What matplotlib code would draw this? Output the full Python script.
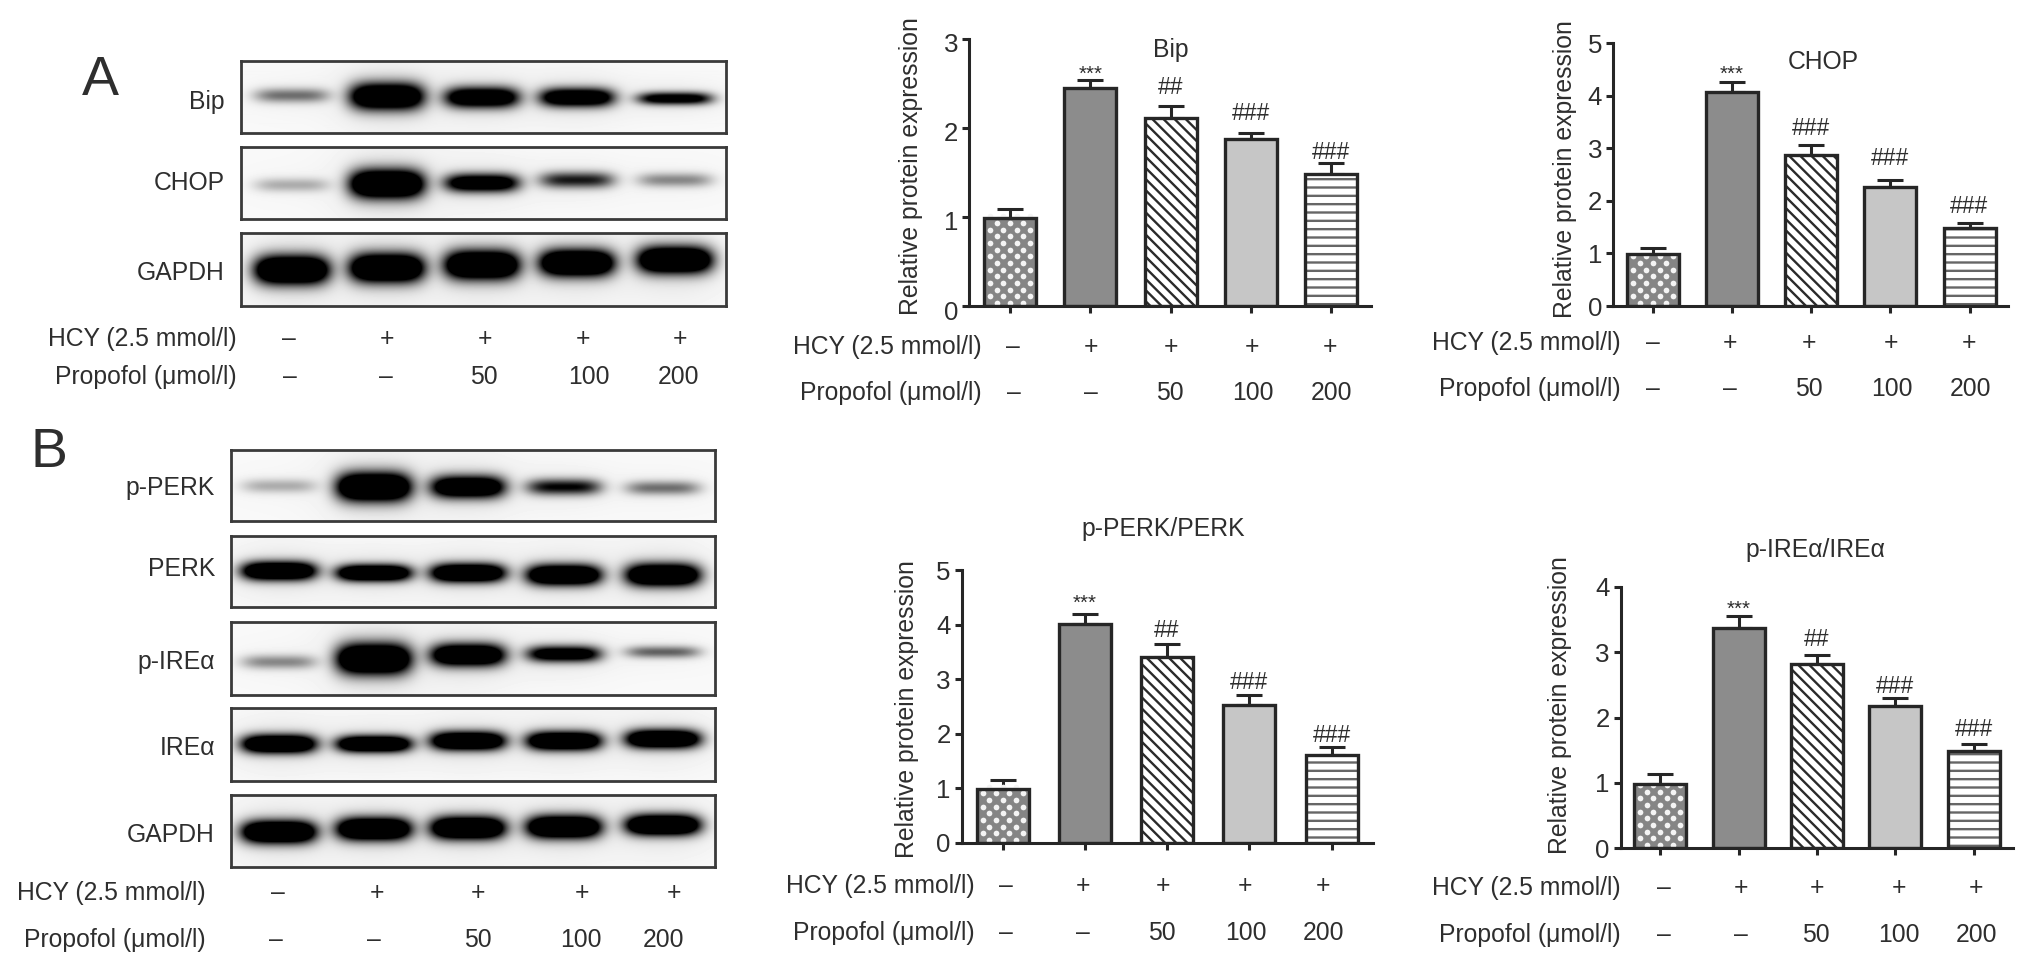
import numpy as np
import matplotlib
matplotlib.use("Agg")
import matplotlib.pyplot as plt
import matplotlib.transforms as mtrans

W, H = 2031, 966
DPI = 200

plt.rcParams['font.family'] = ['Liberation Sans', 'DejaVu Sans']
plt.rcParams['hatch.linewidth'] = 0.85

TEXT = '#2e2e2e'
LINE = '#262626'

hcy_marks = ['–', '+', '+', '+', '+']
prop_marks = ['–', '–', '50', '100', '200']

# bar values
bip_vals = [0.99, 2.44, 2.11, 1.87, 1.48]
bip_tops = [1.09, 2.54, 2.24, 1.94, 1.60]
bip_sig = [2.60, 2.45, 2.16, 1.72]

chop_vals = [0.99, 4.07, 2.87, 2.26, 1.48]
chop_tops = [1.10, 4.26, 3.06, 2.40, 1.58]
chop_sig = [4.41, 3.38, 2.81, 1.90]

perk_vals = [0.98, 4.01, 3.40, 2.52, 1.61]
perk_tops = [1.15, 4.20, 3.65, 2.71, 1.76]
perk_sig = [4.39, 3.89, 2.94, 1.96]

ire_vals = [0.98, 3.37, 2.82, 2.17, 1.48]
ire_tops = [1.13, 3.56, 2.96, 2.30, 1.60]
ire_sig = [3.66, 3.20, 2.47, 1.81]

bip_marks = ['***', '##', '###', '###']
chop_marks = ['***', '###', '###', '###']
perk_marks = ['***', '##', '###', '###']
ire_marks = ['***', '##', '###', '###']

# blot bands: strength, half thickness, centre y (px)
a_rows = ['Bip', 'CHOP', 'GAPDH']
a_label_y = [102, 183, 273]
a_strength = [[0.55, 1.8, 1.6, 1.6, 1.3], [0.3, 2.0, 1.5, 0.9, 0.45], [2.0, 2.0, 2.0, 2.0, 2.0]]
a_thick = [[7, 13, 10, 9, 6], [7, 14, 9, 8, 7], [14, 14, 14, 13, 13]]
a_y = [[96, 97, 98, 98, 99], [185, 184, 183, 180, 180], [270, 268, 265, 263, 260]]

b_rows = ['p-PERK', 'PERK', 'p-IREα', 'IREα', 'GAPDH']
b_label_y = [488, 569, 662, 748, 835]
b_strength = [[0.3, 2.0, 1.7, 1.0, 0.55], [1.9, 1.9, 1.9, 1.9, 1.9], [0.45, 2.0, 1.8, 1.4, 0.6],
              [1.9, 1.9, 1.9, 1.9, 1.9], [2.0, 2.0, 2.0, 2.0, 2.0]]
b_thick = [[7, 14, 11, 8, 7], [9, 8, 9, 10, 11], [7, 15, 11, 8, 6], [9, 8, 9, 9, 9], [11, 11, 11, 11, 10]]
b_y = [[486, 487, 487, 487, 488], [571, 573, 573, 575, 575], [662, 659, 655, 654, 652],
       [744, 744, 741, 741, 739], [832, 829, 828, 827, 825]]

fig = plt.figure(figsize=(W / DPI, H / DPI), dpi=DPI, facecolor='white')


def ptext(x, y, s, size=8.9, ha='center', **kw):
    fig.text(x / W, 1 - y / H, s, fontsize=size, ha=ha, va='center', color=TEXT, **kw)


def treatment_rows(right, y1, y2, xs1, xs2):
    ptext(right, y1, 'HCY (2.5 mmol/l)', ha='right')
    ptext(right, y2, 'Propofol (μmol/l)', ha='right')
    for x, m in zip(xs1, hcy_marks):
        ptext(x, y1, m)
    for x, m in zip(xs2, prop_marks):
        ptext(x, y2, m)


def blot(box, label_x, label, label_y, lanes, strength, thick, ys):
    x0, x1, y0, y1 = box
    ax = fig.add_axes([x0 / W, 1 - y1 / H, (x1 - x0) / W, (y1 - y0) / H])
    xx, yy = np.meshgrid(np.arange(x0, x1) + 0.5, np.arange(y0, y1) + 0.5)
    dark = np.zeros(xx.shape)
    halo = np.zeros(xx.shape)
    for cx, s, t, cy in zip(lanes, strength, thick, ys):
        dx = xx - cx
        dy = yy - cy
        dark += s * np.exp(-np.abs(dx / 37.0) ** 4 - (dy / t) ** 2)
        halo += 0.04 * s * np.exp(-(dx / 50.0) ** 2 - (dy / (t * 3.0)) ** 2)
    img = 0.975 - halo - np.clip(dark, 0, 1) * 0.95
    ax.imshow(np.clip(img, 0, 1), cmap='gray', vmin=0, vmax=1, aspect='auto', interpolation='bilinear')
    ax.set_xticks([])
    ax.set_yticks([])
    for s in ax.spines.values():
        s.set_linewidth(1.0)
        s.set_color('#3a3a3a')
    ptext(label_x, label_y, label, ha='right')


def bar_chart(box, centres, vals, tops, ymax, yticks, title, title_xy, ylab_xy, sig_y, sig_marks, label_drop=0):
    sx, rx, ty, by = box
    step = (centres[-1] - centres[0]) / 4.0
    ax = fig.add_axes([sx / W, 1 - by / H, (rx - sx) / W, (by - ty) / H])
    ax.set_xlim((sx - centres[0]) / step, (rx - centres[0]) / step)
    ax.set_ylim(0, ymax)
    ax.patch.set_alpha(0)
    x = np.arange(5)
    bw = 52.0 / step
    py = (by - ty) / float(ymax)

    lower = np.zeros(5)
    upper = np.array(tops) - np.array(vals)
    ax.errorbar(x, vals, yerr=[lower, upper], fmt='none', ecolor=LINE, elinewidth=1.1,
                capsize=4.6, capthick=1.1, zorder=1)

    # first bar: grey with a diagonal lattice of white dots
    ax.bar(x[0], vals[0], bw, color='#858585', zorder=2)
    gx, gy = np.meshgrid(np.arange(-3, 4), np.arange(0, int(vals[0] * py / 6.67) + 1))
    keep = (gx + gy) % 2 == 0
    ax.scatter(x[0] + gx[keep] * 6.67 / step, (gy[keep] * 6.67 + 3) / py, s=4.2, c='#f4f4f4',
               linewidths=0, zorder=2.5)

    ax.bar(x[1], vals[1], bw, color='#8c8c8c', zorder=2)
    ax.bar(x[2], vals[2], bw, facecolor='white', edgecolor='#2a2a2a', hatch='\\' * 6, linewidth=0, zorder=2)
    ax.bar(x[3], vals[3], bw, color='#c6c6c6', zorder=2)
    ax.bar(x[4], vals[4], bw, facecolor='white', edgecolor='#666666', hatch='----', linewidth=0, zorder=2)
    ax.bar(x, vals, bw, facecolor='none', edgecolor=LINE, linewidth=1.2, zorder=3)

    for s in ['top', 'right']:
        ax.spines[s].set_visible(False)
    for s in ['left', 'bottom']:
        ax.spines[s].set_linewidth(1.1)
        ax.spines[s].set_color(LINE)
        ax.spines[s].set_zorder(4)
    ax.set_xticks(x)
    ax.set_xticklabels([])
    ax.set_yticks(yticks)
    ax.tick_params(axis='both', length=2.6, width=1.1, color=LINE, labelsize=9.3, labelcolor=TEXT, pad=1.5)
    if label_drop:
        shift = mtrans.ScaledTranslation(0, -label_drop / DPI, fig.dpi_scale_trans)
        for lab in ax.get_yticklabels():
            lab.set_transform(lab.get_transform() + shift)

    for xi, y, m in zip(x[1:], sig_y, sig_marks):
        ax.text(xi, y, m, ha='center', va='center', fontsize=7.4 if m == '***' else 8.2,
                color=TEXT, zorder=5)

    ptext(title_xy[0], title_xy[1], title)
    ptext(ylab_xy[0], ylab_xy[1], 'Relative protein expression', rotation=90)


# panel A blots
a_lanes = [292, 387, 482, 577, 675]
a_boxes = [(241, 726, 61, 133), (241, 726, 147, 219), (241, 726, 233, 306)]
for i in range(3):
    blot(a_boxes[i], 225, a_rows[i], a_label_y[i], a_lanes, a_strength[i], a_thick[i], a_y[i])
treatment_rows(237, 339, 377, [289, 387, 485, 583, 680], [290, 386, 484, 589, 679])
ptext(100, 81, 'A', size=20)

# panel B blots
b_lanes = [279, 374, 468, 564, 663]
b_boxes = [(231, 715, 450, 521), (231, 715, 536, 607), (231, 715, 622, 695),
           (231, 715, 708, 781), (231, 715, 795, 867)]
for i in range(5):
    blot(b_boxes[i], 215, b_rows[i], b_label_y[i], b_lanes, b_strength[i], b_thick[i], b_y[i])
treatment_rows(206, 893, 940, [278, 377, 478, 582, 674], [276, 374, 478, 581, 664])
ptext(49, 453, 'B', size=20)

# bar charts
bar_chart((969.5, 1371, 38.5, 306), [1010, 1090, 1170.5, 1250.5, 1331], bip_vals, bip_tops, 3, [0, 1, 2, 3],
          'Bip', (1171, 50), (911, 166), bip_sig, bip_marks, label_drop=4)
treatment_rows(982, 347, 393, [1013, 1091, 1171, 1252, 1330], [1014, 1091, 1170, 1253, 1331])

bar_chart((1613.5, 2008, 43, 306), [1653, 1732, 1811, 1890, 1969.5], chop_vals, chop_tops, 5, [0, 1, 2, 3, 4, 5],
          'CHOP', (1823, 62), (1565, 169), chop_sig, chop_marks)
treatment_rows(1621, 343, 389, [1652.5, 1729.5, 1809.5, 1891.5, 1969], [1653, 1729.5, 1808.5, 1892, 1970.5])

bar_chart((962, 1373.5, 570, 843), [1002.6, 1085, 1167, 1250, 1331.6], perk_vals, perk_tops, 5, [0, 1, 2, 3, 4, 5],
          'p-PERK/PERK', (1163, 529), (907, 709), perk_sig, perk_marks)
treatment_rows(975, 886, 933, [1006, 1083, 1163, 1245, 1323], [1006, 1083, 1162, 1246, 1324])

bar_chart((1621, 2013, 587, 848), [1660, 1739, 1817, 1896, 1974], ire_vals, ire_tops, 4, [0, 1, 2, 3, 4],
          'p-IREα/IREα', (1815, 550), (1560, 705), ire_sig, ire_marks)
treatment_rows(1621, 888, 935, [1664, 1741, 1817, 1899, 1976], [1664, 1741, 1816, 1899, 1977])

fig.savefig('out.png', dpi=DPI)
